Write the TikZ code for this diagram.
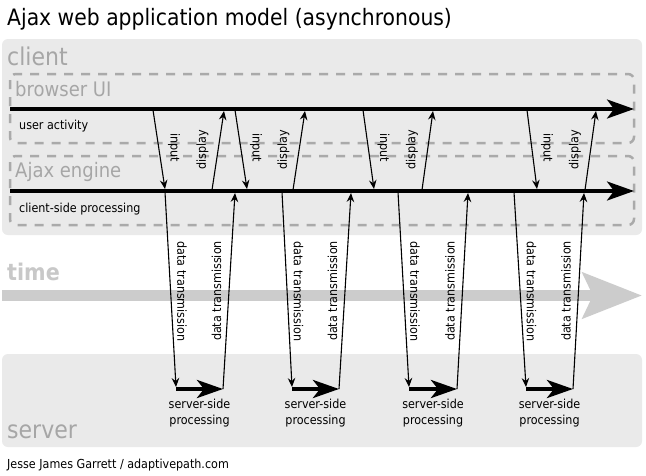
\documentclass[tikz,border=0pt]{standalone}
\usepackage{fontspec}
\setmainfont[FakeStretch=0.9]{DejaVu Sans}
\usetikzlibrary{arrows.meta,calc}
\definecolor{boxgray}{HTML}{EAEAEA}
\definecolor{dashgray}{HTML}{AAAAAA}
\definecolor{labgray}{HTML}{A6A6A6}
\definecolor{timegray}{HTML}{CCCCCC}
\definecolor{timetext}{HTML}{C8C8C8}
\begin{document}
\begin{tikzpicture}[x=1pt,y=-1pt,
  area/.style={fill=boxgray, rounded corners=6pt},
  dbox/.style={draw=dashgray, line width=2.5pt, dash pattern=on 9pt off 8pt, rounded corners=6pt},
  mainline/.style={line width=3.5pt, -{Stealth[length=27pt,width=19pt,inset=7pt]}},
  srvline/.style={line width=4pt, -{Stealth[length=26pt,width=18pt,inset=7pt]}},
  thinarrow/.style={line width=1.1pt, -{Stealth[length=9pt,width=7.5pt,inset=3pt]}},
  small/.style={font=\fontsize{12.4}{14.5}\selectfont, inner sep=0pt},
  smallbase/.style={small, anchor=base west},
  big/.style={font=\fontsize{24.5}{28}\selectfont, text=labgray, inner sep=0pt, anchor=base west},
  mid/.style={font=\fontsize{20}{24}\selectfont, text=labgray, inner sep=0pt, anchor=base west}]
\useasboundingbox (0,0) rectangle (646,475);
\fill[white] (0,0) rectangle (646,475);
% areas
\path[area] (2,39) rectangle (642,235);
\path[area] (2,354) rectangle (642,447);
\path[dbox] (10,74) rectangle (634,143);
\path[dbox] (10,156) rectangle (634,225);
% time arrow
\coordinate (ts) at (2,295.5);
\coordinate (te) at (642,295.5);
\draw[timegray, line width=11pt, -{Stealth[length=59pt,width=45pt,inset=10pt]}] (ts) -- (te);
% texts
\node[anchor=base west, inner sep=0pt, font=\fontsize{22.6}{26}\selectfont] (title) at (7,25) {Ajax web application model (asynchronous)};
\node[big] (client) at (7,65) {client};
\node[mid] (bui) at (15,96) {browser UI};
\node[mid] (aje) at (15,177) {Ajax engine};
\node[smallbase] (ua) at (19,129.5) {user activity};
\node[smallbase] (csp) at (19,212.5) {client-side processing};
\node[anchor=base west, inner sep=0pt, text=timetext, font=\fontsize{23}{27}\selectfont\bfseries] (time) at (7,280) {time};
\node[big] (server) at (7,438) {server};
\node[smallbase] (foot) at (7,468) {Jesse James Garrett / adaptivepath.com};
% groups
\foreach \k/\ia/\ib/\dpa/\dpb/\da/\db/\hb/\ub in {
 1/153/165/212/224/165/176/223/235,
 2/235/247/293/305/282/292/339/351,
 3/363/374/422/433/398/409/457/468,
 4/527/537/585/596/514/526/573/584}{
 \coordinate (in\k a) at (\ia,110);
 \coordinate (in\k b) at (\ib,189);
 \coordinate (dp\k a) at (\dpa,190);
 \coordinate (dp\k b) at (\dpb,111);
 \coordinate (dn\k a) at (\da,192);
 \coordinate (dn\k b) at (\db,387);
 \coordinate (h\k a) at (\db,389);
 \coordinate (h\k b) at (\hb,389);
 \coordinate (up\k a) at (\hb,389);
 \coordinate (up\k b) at (\ub,193);
 \draw[thinarrow] (in\k a) -- (in\k b);
 \draw[thinarrow] (dp\k a) -- (dp\k b);
 \draw[thinarrow] (dn\k a) -- (dn\k b);
 \draw[thinarrow] (up\k a) -- (up\k b);
 \node[small, rotate=-90] (inl\k) at ($(in\k a)!.5!(in\k b)+(15,-2)$) {input};
 \node[small, rotate=90] (dpl\k) at ($(dp\k a)!.5!(dp\k b)+(-15.5,-1)$) {display};
 \node[small, rotate=-90] (dnl\k) at ($(dn\k a)!.5!(dn\k b)+(11.5,2)$) {data transmission};
 \node[small, rotate=90] (upl\k) at ($(up\k a)!.5!(up\k b)+(-12.5,0)$) {data transmission};
 \draw[srvline] (h\k a) -- (h\k b);
 \node[small, anchor=base] (ss\k) at ($(h\k a)!.5!(h\k b)+(0,19)$) {server-side};
 \node[small, anchor=base] (pr\k) at ($(h\k a)!.5!(h\k b)+(0,35)$) {processing};
}
% main lines
\coordinate (uas) at (10,109);
\coordinate (uae) at (634,109);
\coordinate (css) at (10,191);
\coordinate (cse) at (634,191);
\draw[mainline] (uas) -- (uae);
\draw[mainline] (css) -- (cse);
\end{tikzpicture}
\end{document}
